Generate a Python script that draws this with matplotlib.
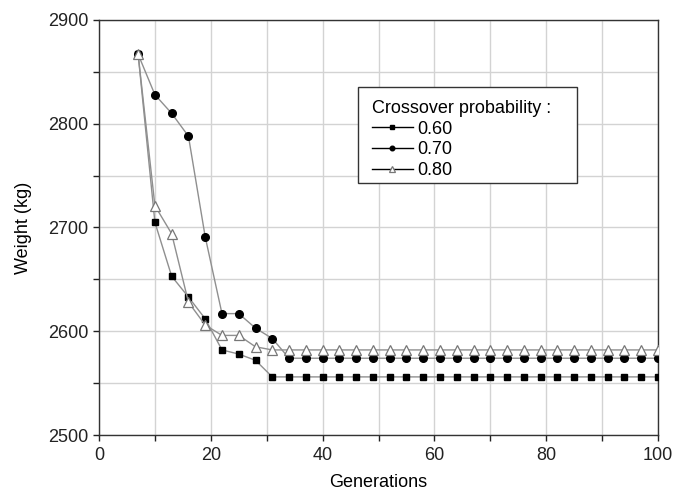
import matplotlib.pyplot as plt
from matplotlib.patches import Rectangle

plt.rcParams['font.family'] = ['Liberation Sans', 'DejaVu Sans']

generations = list(range(7, 101, 3))
n_flat = len(generations)

w_060 = [2867, 2705, 2653, 2633, 2612, 2582, 2578, 2572] + [2556] * (n_flat - 8)
w_070 = [2867, 2828, 2810, 2788, 2691, 2617, 2617, 2603, 2593] + [2574] * (n_flat - 9)
w_080 = [2867, 2721, 2694, 2628, 2606, 2596, 2596, 2585] + [2582] * (n_flat - 8)
labels = ['0.60', '0.70', '0.80']

fig = plt.figure(figsize=(6.75, 4.92), dpi=100)
ax = fig.add_axes([99 / 675, 57 / 492, 559 / 675, 415 / 492])

line_col = '#8f8f8f'
ax.plot(generations, w_060, color=line_col, lw=1.0, marker='s', ms=5,
        mfc='black', mec='black', label=labels[0], zorder=3)
ax.plot(generations, w_070, color=line_col, lw=1.0, marker='o', ms=5.5,
        mfc='black', mec='black', label=labels[1], zorder=3)
ax.plot(generations, w_080, color=line_col, lw=1.0, marker='^', ms=6.5,
        mfc='white', mec='#777777', mew=0.9, label=labels[2], zorder=4)

ax.set_xlim(0, 100)
ax.set_ylim(2500, 2900)
ax.set_xticks(range(0, 101, 20))
ax.set_xticks(range(0, 101, 10), minor=True)
ax.set_yticks(range(2500, 2901, 100))
ax.set_yticks(range(2500, 2901, 50), minor=True)
ax.grid(True, which='both', color='#d3d3d3', lw=1.0, zorder=0)
ax.tick_params(which='both', direction='out', length=4, width=1, colors='#222222',
               labelsize=13)
ax.tick_params(axis='x', pad=5)
for s in ax.spines.values():
    s.set_color('#333333')
    s.set_linewidth(1.0)

ax.set_xlabel('Generations', fontsize=13, labelpad=7)
ax.set_ylabel('Weight (kg)', fontsize=13, labelpad=12)

# legend box drawn separately so it can be wider than its contents
box = Rectangle((0.463, 0.607), 0.392, 0.232, transform=ax.transAxes,
                facecolor='white', edgecolor='#333333', lw=1.0, zorder=5)
ax.add_patch(box)

leg = ax.legend(title='Crossover probability :', loc='upper left',
                bbox_to_anchor=(0.462, 0.842), frameon=False,
                fontsize=13, title_fontsize=13,
                handlelength=2.3, handletextpad=0.2, labelspacing=0.2,
                borderpad=0.3, markerscale=0.6)
leg._legend_box.align = 'left'
leg.set_zorder(6)
for h in leg.legend_handles:
    h.set_color('black')
    h.set_linewidth(1.0)
leg.legend_handles[2].set_markeredgecolor('#777777')
leg.legend_handles[2].set_markerfacecolor('white')

fig.savefig('out.png', dpi=100)
